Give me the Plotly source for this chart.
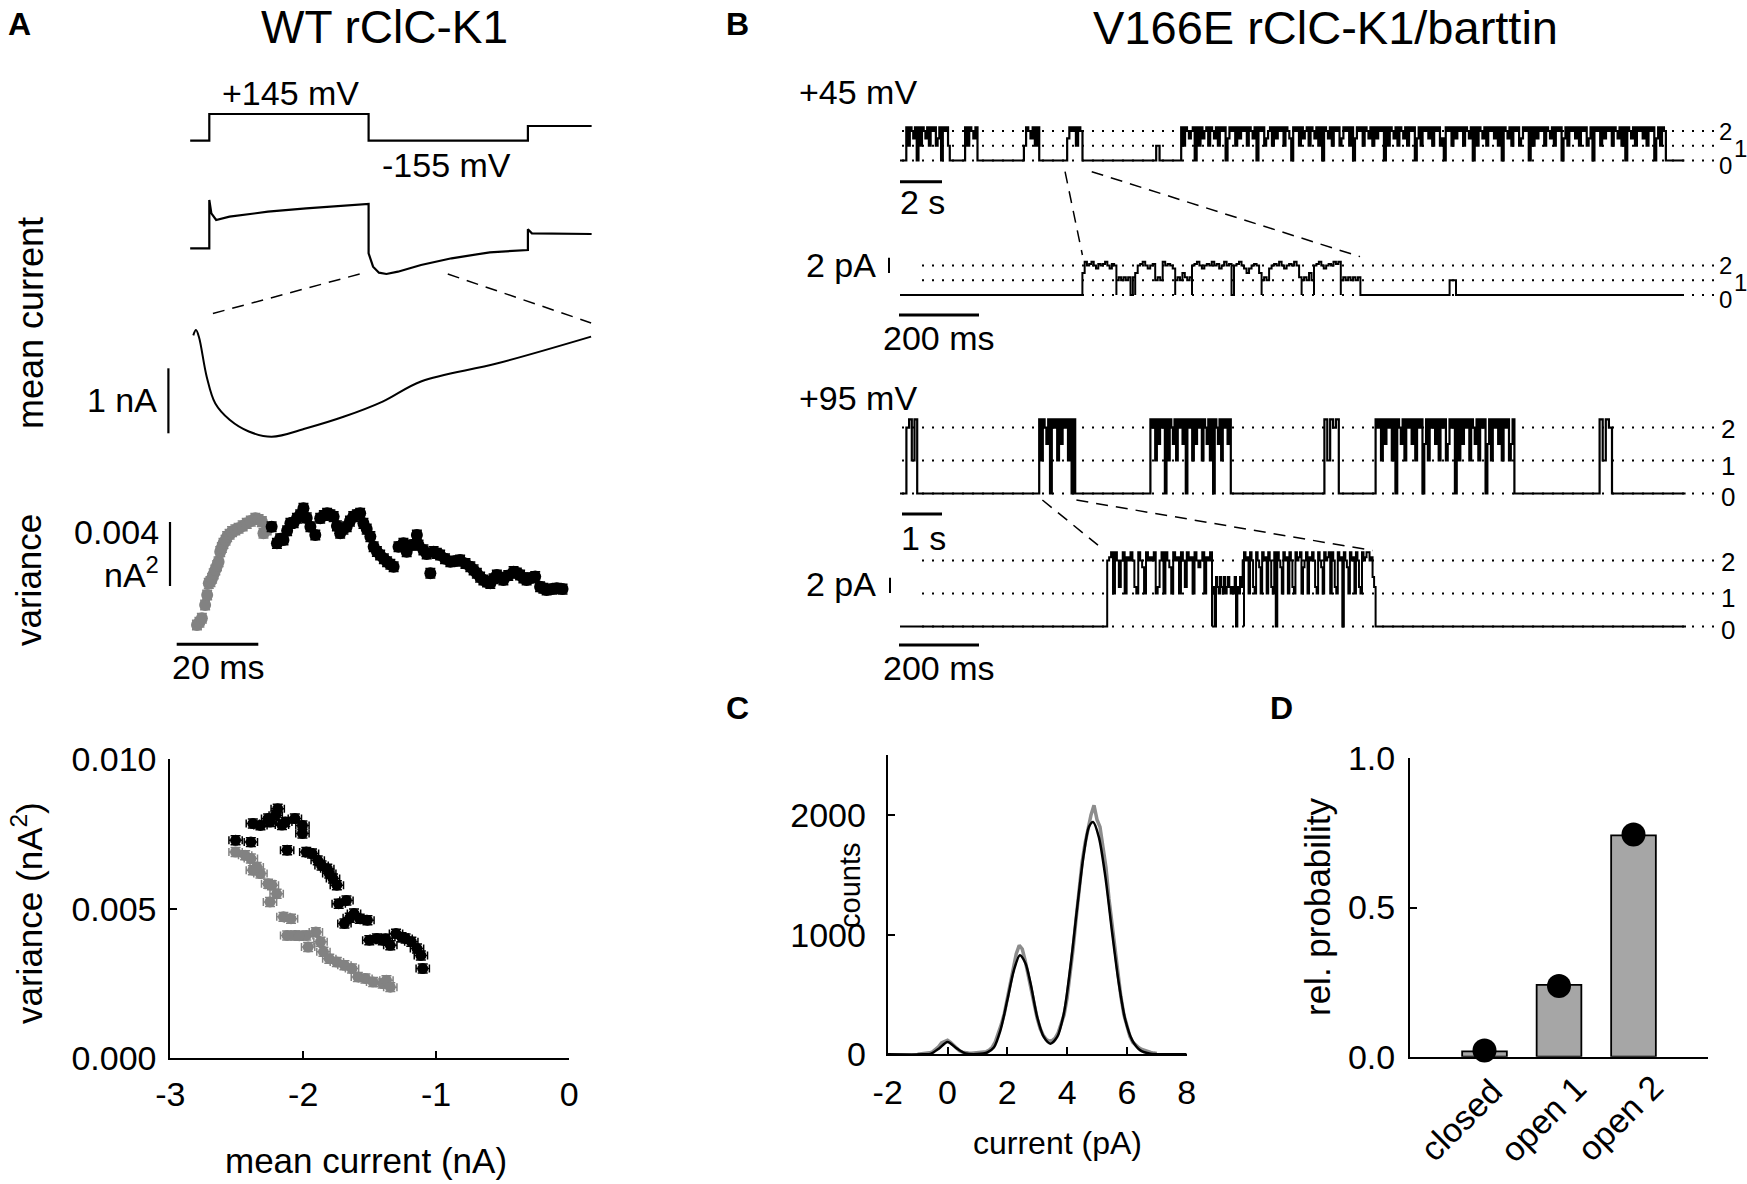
import plotly.graph_objects as go

W, H = 1747, 1184
FONT = "Liberation Sans, Arial, Helvetica, sans-serif"
BLACK = "#000000"
GRAY = "#828282"

# ======================= DATA =======================
# Panel A - voltage protocol (schematic) and mean current
prot_t = [-12, 0, 0, 100, 100, 200, 200, 240]
prot_mv = [-155, -155, 145, 145, -155, -155, 10, 10]

mean_t = [-12, 0, 0, 1.3, 4.3, 12.7, 36.8, 60.8, 100, 100, 102.8, 106.5, 111.2,
          118.4, 132.9, 152.1, 176.1, 200, 200, 202.5, 240]
mean_na = [0, 0, 4.83, 3.5, 2.83, 3.16, 3.66, 4.0, 4.43, -0.5, -1.84, -2.44, -2.57,
           -2.34, -1.67, -1.0, -0.4, -0.17, 1.9, 1.5, 1.43]

# zoom of the -155 mV step
zoom_t = [0, 0.66, 1.4, 3.3, 5.4, 8.9, 13.6, 19.2, 27.7, 37.0, 46.4, 55.8, 74.6, 97.5]
zoom_na = [-1.04, -0.96, -1.07, -1.68, -2.09, -2.34, -2.52, -2.60, -2.47, -2.29,
           -2.06, -1.75, -1.47, -1.06]

# variance vs time
var_gray_t = [0.9, 1.5, 2.1, 2.9, 3.4, 3.8, 4.2, 4.6, 5.0, 5.4, 5.8, 6.2, 6.6, 7.0,
              7.4, 7.9, 8.3, 8.9, 9.5, 10.3, 11.1, 12.1, 13.1, 14.1, 15.2, 16.0,
              16.8, 17.2, 18.0]
var_gray = [0.00101, 0.00118, 0.00143, 0.00226, 0.00288, 0.00361, 0.00372, 0.00393,
            0.00420, 0.00444, 0.00470, 0.00496, 0.00559, 0.00585, 0.00611, 0.00630,
            0.00653, 0.00668, 0.00684, 0.00695, 0.00705, 0.00720, 0.00736, 0.00750,
            0.00768, 0.00760, 0.00747, 0.00674, 0.00694]
var_black_t = [19.2, 20.5, 21.3, 22.1, 23.0, 23.8, 24.6, 25.4, 26.2, 27.0, 27.8, 28.7,
               29.9, 31.1, 32.0, 32.8, 33.6, 34.4, 35.2, 36.0, 36.8, 37.6, 38.4, 39.2,
               40.1, 40.9, 41.7, 42.5, 43.4, 44.2, 45.0, 45.8, 46.7, 47.5, 48.3, 49.1,
               50.3, 51.5, 52.3, 53.5, 54.8, 55.2, 56.4, 57.2, 58.1, 58.9, 59.7, 60.5,
               61.7, 63.0, 64.2, 65.4, 66.7, 67.9, 68.7, 69.5, 70.3, 71.1, 72.0, 72.8,
               73.6, 74.4, 75.2, 76.0, 77.2, 78.5, 79.3, 80.1, 80.9, 81.7, 82.8, 83.8,
               85.0, 85.8, 86.6, 87.9, 89.1, 90.5]
var_black = [0.00715, 0.00611, 0.00640, 0.00632, 0.00690, 0.00736, 0.00740, 0.00768,
             0.00790, 0.00830, 0.00770, 0.00715, 0.00663, 0.00768, 0.00785, 0.00799,
             0.00790, 0.00778, 0.00720, 0.00674, 0.00700, 0.00715, 0.00750, 0.00778,
             0.00790, 0.00799, 0.00736, 0.00700, 0.00653, 0.00590, 0.00560, 0.00538,
             0.00515, 0.00496, 0.00480, 0.00465, 0.00590, 0.00611, 0.00559, 0.00600,
             0.00663, 0.00601, 0.00570, 0.00545, 0.00424, 0.00559, 0.00548, 0.00538,
             0.00515, 0.00496, 0.00500, 0.00507, 0.00485, 0.00465, 0.00445, 0.00424,
             0.00400, 0.00382, 0.00370, 0.00361, 0.00390, 0.00413, 0.00398, 0.00382,
             0.00410, 0.00434, 0.00425, 0.00413, 0.00395, 0.00382, 0.00395, 0.00403,
             0.00340, 0.00330, 0.00319, 0.00325, 0.00330, 0.00325]

# variance vs mean current
sc_black_i = [-2.509, -2.394, -2.379, -2.322, -2.264, -2.192, -2.207, -2.135, -2.063,
              -2.006, -2.006, -2.121, -1.977, -1.934, -1.891, -1.862, -1.819, -1.804,
              -1.776, -1.747, -1.733, -1.675, -1.690, -1.618, -1.575, -1.517, -1.503,
              -1.446, -1.402, -1.345, -1.302, -1.230, -1.187, -1.144, -1.115, -1.101,
              -2.250, -2.160, -1.650, -1.380, -1.260]
sc_black_v = [0.00729, 0.00723, 0.00785, 0.00779, 0.00802, 0.00835, 0.00813, 0.00790,
              0.00802, 0.00779, 0.00752, 0.00696, 0.00690, 0.00685, 0.00662, 0.00645,
              0.00634, 0.00618, 0.00601, 0.00579, 0.00517, 0.00528, 0.00451, 0.00484,
              0.00467, 0.00462, 0.00395, 0.00401, 0.00395, 0.00378, 0.00417, 0.00401,
              0.00390, 0.00367, 0.00344, 0.00300, 0.00790, 0.00780, 0.00470, 0.00400,
              0.00405]
sc_gray_i = [-2.509, -2.437, -2.394, -2.379, -2.322, -2.264, -2.236, -2.250, -2.149,
             -2.092, -2.121, -2.063, -1.977, -1.905, -1.963, -1.848, -1.804, -1.747,
             -1.690, -1.633, -1.589, -1.532, -1.474, -1.402, -1.374, -1.345, -2.350,
             -2.200, -2.030, -1.870]
sc_gray_v = [0.00690, 0.00679, 0.00668, 0.00629, 0.00618, 0.00584, 0.00579, 0.00523,
             0.00473, 0.00467, 0.00411, 0.00411, 0.00411, 0.00422, 0.00372, 0.00356,
             0.00333, 0.00322, 0.00311, 0.00300, 0.00272, 0.00267, 0.00255, 0.00250,
             0.00261, 0.00238, 0.00640, 0.00550, 0.00410, 0.00390]

# Panel B - single-channel recordings
# levels: 0/1/2 open channels; b=1.5, h=2.25, c=1.8, d=1.2, e=2.1
i45_pA = 1.94
i95_pA = 4.34
rec45_len_s = 37.35
rec95_len_s = 19.64
zoom45_len_ms = 1960
zoom95_len_ms = 1965
bursts45 = [
    (0.30, 2.37, "h1h2bh0h1h2bh1h2h1bh0h2h1"),
    (3.10, 3.69, "h1h2bh"),
    (5.90, 6.63, "1h2bh1h"),
    (7.96, 8.69, "bh2h1h2"),
    (12.20, 12.36, "1"),
    (13.39, 36.47,
     "h1h2b2h0h1hb2h1h2bh1h2h0bh2h1hbh2h1h2bh0h2h1b2h1hbh2h1h2b0h2h1hb2h1h2bh1h0h2bh1h2h1"
     "bh2h1h0bh2h1h2bh1hbh2h0h1h2bh1h2bh1h2h0bh1h2hbh1h2h1b0h2h1hbh2h1h2bh0h1h2bh1h2hbh1h0"
     "h2bh1h2h1bh2h0h1hbh2h1h2bh1h2h0bh1h2hbh1h2h1bh0h2h1hbh2h1h2bh1h0h2bh1h2hbh1h2h0bh1h2"),
]
bursts95 = [
    (0.16, 0.43, "2h1h"),
    (3.48, 4.38, "h1h2bh0h2h1hbh2h1h0h"),
    (6.26, 8.27, "h2h1hbh2h0h1h2bh1h2hbh0h2h1hbh2h1h2bh1h0h2bh1h2hbh"),
    (10.61, 10.97, "h1h2h"),
    (11.89, 15.36, "h2h1hbh2h1h0h2bh1h2hbh1h2h0bh1h2hbh1h2h1bh2h0h1hbh2h1h2bh1h2h0bh1h2hbh1h2h1bh"),
    (17.49, 17.80, "h1h2"),
]
zoom45_segments = [
    (456, 541, "bh2eh2ce2eh2ce2"),
    (541, 588, "1d1d1d0d"),
    (588, 688, "b2eh2c2e1d1h2e2c"),
    (688, 730, "1d1bd1d"),
    (730, 835, "2eh2c2e2h2ec2h2e0"),
    (835, 904, "2eh2cbc2e2b"),
    (904, 1004, "1d1c2e2h2c2e2h2d"),
    (1004, 1035, "1d1b1"),
    (1035, 1102, "2eh2c2e2heh"),
    (1102, 1151, "1d1d1d1d"),
    (1374, 1390, "1"),
]
zoom95_segments = [
    (518, 780, "2eh1h2d2h1e2h2d1h2c1h2e2h1d2h1h2c1h2e1h2dh2e1h2c2h1e2h"),
    (780, 860, "1d0bd1bd1b1dbd1d1b0d1bd2"),
    (860, 1189, "h2e1h2d1h2c1h2e1h2d1h0h2c1h2e1h2d1h2eh1c2h1e2h2d1h2c1h2eh1h2d1h2e0h2c1h2e1h2d1h2ehh2ebd"),
]

# Panel C - amplitude histogram
hist_pA = [-1.0, -0.9, -0.8, -0.7, -0.6, -0.5, -0.4, -0.3, -0.2, -0.1, 0.0, 0.1, 0.2,
           0.3, 0.4, 0.5, 0.6, 0.7, 0.8, 0.9, 1.0, 1.1, 1.2, 1.3, 1.4, 1.5, 1.6, 1.7,
           1.8, 1.9, 2.0, 2.1, 2.2, 2.3, 2.4, 2.5, 2.6, 2.7, 2.8, 2.9, 3.0, 3.1, 3.2,
           3.3, 3.4, 3.5, 3.6, 3.7, 3.8, 3.9, 4.0, 4.1, 4.2, 4.3, 4.4, 4.5, 4.6, 4.7,
           4.8, 4.9, 5.0, 5.1, 5.2, 5.3, 5.4, 5.5, 5.6, 5.7, 5.8, 5.9, 6.0, 6.1, 6.2,
           6.3, 6.4, 6.5, 6.6, 6.7, 6.8, 6.9, 7.0]
hist_counts = [0, 2, 5, 8, 12, 20, 38, 62, 95, 110, 118, 100, 78,
               52, 30, 18, 12, 10, 9, 11, 10, 12, 15, 22, 35, 60, 105, 170,
               250, 340, 470, 580, 700, 840, 910, 880, 780, 660, 540, 410, 300, 215, 160,
               125, 110, 115, 135, 180, 250, 330, 470, 660, 880, 1130, 1380, 1600, 1760, 1900,
               2000, 2080, 1960, 1900, 1720, 1560, 1300, 1080, 880, 640, 480, 330, 230, 150, 100,
               75, 55, 40, 30, 22, 15, 10, 6]
fit_pA = [-2.0, -0.8, -0.57, -0.29, 0.0, 0.32, 0.6, 1.0, 1.33, 1.55, 1.77, 2.0, 2.22,
          2.42, 2.61, 2.78, 3.0, 3.22, 3.44, 3.67, 3.89, 4.11, 4.34, 4.56, 4.73, 4.87,
          5.06, 5.28, 5.51, 5.73, 5.95, 6.18, 6.45, 6.79, 7.2, 8.0]
fit_counts = [0, 0, 3, 47, 103, 47, 8, 2, 15, 56, 200, 451, 702,
              827, 758, 591, 312, 145, 89, 145, 340, 730, 1231, 1677, 1900, 1941,
              1817, 1482, 1009, 591, 284, 117, 33, 5, 0, 0]

# Panel D - relative probabilities
states = ["closed", "open 1", "open 2"]
prob_observed = [0.018, 0.241, 0.742]
prob_binomial = [0.021, 0.237, 0.745]

# scale-bar sizes (data units)
sb_nA = 1.0
sb_var = 0.004
sb_ms_A = 20
sb_pA = 2.0
sb_s45 = 2.0
sb_s95 = 1.0
sb_ms_B = 200

# ======================= FIGURE =======================
fig = go.Figure()
AX = {}


def sfx(n):
    return "" if n == 1 else str(n)


def scaled_axes(n, box, xref_px, xref_val, xppu, yref_px, yref_val, yppu, visible=False):
    px0, px1, py0, py1 = box
    xr = [xref_val + (px0 - xref_px) / xppu, xref_val + (px1 - xref_px) / xppu]
    yr = [yref_val - (py1 - yref_px) / yppu, yref_val - (py0 - yref_px) / yppu]
    AX[n] = dict(xd=(px0 / W, px1 / W), yd=(1 - py1 / H, 1 - py0 / H), xr=xr, yr=yr)
    fig.update_layout(**{
        "xaxis" + sfx(n): dict(domain=list(AX[n]["xd"]), range=xr, visible=visible,
                               anchor="y" + sfx(n), fixedrange=True, automargin=False),
        "yaxis" + sfx(n): dict(domain=list(AX[n]["yd"]), range=yr, visible=visible,
                               anchor="x" + sfx(n), fixedrange=True, automargin=False),
    })


def to_paper(n, xv, yv):
    a = AX[n]
    fx = a["xd"][0] + (xv - a["xr"][0]) / (a["xr"][1] - a["xr"][0]) * (a["xd"][1] - a["xd"][0])
    fy = a["yd"][0] + (yv - a["yr"][0]) / (a["yr"][1] - a["yr"][0]) * (a["yd"][1] - a["yd"][0])
    return fx, fy


def px_data(n, px, py):
    a = AX[n]
    fx, fy = px / W, 1 - py / H
    xv = a["xr"][0] + (fx - a["xd"][0]) / (a["xd"][1] - a["xd"][0]) * (a["xr"][1] - a["xr"][0])
    yv = a["yr"][0] + (fy - a["yd"][0]) / (a["yd"][1] - a["yd"][0]) * (a["yr"][1] - a["yr"][0])
    return xv, yv


def line(n, xs, ys, color=BLACK, width=2, shape="linear"):
    fig.add_trace(go.Scatter(x=xs, y=ys, mode="lines", xaxis="x" + sfx(n), yaxis="y" + sfx(n),
                             line=dict(color=color, width=width, shape=shape),
                             hoverinfo="skip", showlegend=False))


def ann(text, px, py, size=34, xanchor="center", yanchor="middle", angle=0, bold=False):
    fig.add_annotation(text=("<b>%s</b>" % text) if bold else text, x=px / W, y=1 - py / H,
                       xref="paper", yref="paper", xanchor=xanchor, yanchor=yanchor,
                       showarrow=False, textangle=angle, borderpad=0,
                       font=dict(family=FONT, size=size, color=BLACK))


def pline(p0, p1, dash="12px,8px", width=1.5):
    fig.add_shape(type="line", xref="paper", yref="paper", x0=p0[0], y0=p0[1],
                  x1=p1[0], y1=p1[1], line=dict(color=BLACK, width=width, dash=dash))


LEVEL = {"0": 0.0, "1": 1.0, "2": 2.0, "b": 1.5, "h": 2.25, "c": 1.8, "d": 1.2, "e": 2.1}


def burst_trace(total, bursts, unit):
    ts, ys = [0.0], [0.0]
    prev_end = None
    for b0, b1, pat in bursts:
        if prev_end is None or b0 > prev_end + 1e-9:
            ts.append(b0)
            ys.append(0.0)
        dt = (b1 - b0) / len(pat)
        for k, c in enumerate(pat):
            ts.append(b0 + k * dt)
            ys.append(LEVEL[c] * unit)
        prev_end = b1
        ts.append(b1)
        ys.append(ys[-1])
        ts.append(b1)
        ys.append(0.0)
    ts.append(total)
    ys.append(0.0)
    return ts, ys


# ---------- axes layout (pixel boxes and scales) ----------
scaled_axes(1, (180, 600, 95, 150), 209.3, 0, 1.593, 140.7, -155, 0.089)       # protocol
scaled_axes(2, (180, 600, 185, 290), 209.3, 0, 1.593, 248.3, 0, 10.0)          # mean current
scaled_axes(3, (150, 600, 320, 450), 193.3, 0, 4.08, 436.7, -2.6, 65.0)        # zoomed current
scaled_axes(4, (150, 600, 485, 660), 193.3, 0, 4.08, 508.3, 0.0083, 16000.0)   # variance vs time
scaled_axes(5, (170.3, 569.1, 759.3, 1058.3), 170.3, -3, 132.93, 1058.3, 0, 29900.0, True)
scaled_axes(6, (880, 1700, 110, 192), 900, 0, 21.0, 160.5, 0, 7.6)             # +45 overview
scaled_axes(7, (880, 1700, 235, 322), 900, 0, 0.4, 295.0, 0, 7.6)              # +45 zoom
scaled_axes(8, (880, 1700, 410, 522), 900, 0, 40.0, 493.5, 0, 7.6)             # +95 overview
scaled_axes(9, (880, 1700, 540, 652), 900, 0, 0.4, 626.5, 0, 7.6)              # +95 zoom
scaled_axes(10, (887.7, 1186.7, 755.0, 1054.3), 887.7, -2, 29.9, 1054.3, 0, 0.1197, True)
scaled_axes(11, (1410, 1708, 758.3, 1056.7), 1410, -1, 74.5, 1056.7, 0, 298.4, True)

# ---------- Panel A ----------
line(1, prot_t, prot_mv, width=2.2)
line(2, mean_t, mean_na, width=2.2)
line(3, zoom_t, zoom_na, width=2.0, shape="spline")

for xs, ys, col in [(var_gray_t, var_gray, GRAY), (var_black_t, var_black, BLACK)]:
    fig.add_trace(go.Scatter(x=xs, y=ys, mode="markers", xaxis="x4", yaxis="y4",
                             marker=dict(color=col, size=12),
                             error_x=dict(type="constant", value=1.0, color=col, thickness=1.5, width=4),
                             error_y=dict(type="constant", value=0.0003, color=col, thickness=1.5, width=5),
                             hoverinfo="skip", showlegend=False))

for xs, ys, col in [(sc_gray_i, sc_gray_v, GRAY), (sc_black_i, sc_black_v, BLACK)]:
    fig.add_trace(go.Scatter(x=xs, y=ys, mode="markers", xaxis="x5", yaxis="y5",
                             marker=dict(color=col, size=11),
                             error_x=dict(type="constant", value=0.05, color=col, thickness=1.5, width=4),
                             error_y=dict(type="constant", value=0.00015, color=col, thickness=1.5, width=5),
                             hoverinfo="skip", showlegend=False))

# scale bars panel A
bx, by = px_data(3, 168.4, 433.3)
line(3, [bx, bx], [by, by + sb_nA], width=2.2)
bx, by = px_data(4, 170.0, 586.0)
line(4, [bx, bx], [by, by + sb_var], width=2.2)
bx, by = px_data(4, 176.7, 644.3)
line(4, [bx, bx + sb_ms_A], [by, by], width=3)

# zoom connectors panel A
pline(to_paper(2, 94.4, -2.57), to_paper(3, 3.3, -0.73))
pline(to_paper(2, 149.7, -2.57), to_paper(3, 97.5, -0.85))

# ---------- Panel B ----------
t45, y45 = burst_trace(rec45_len_s, bursts45, i45_pA)
t95, y95 = burst_trace(rec95_len_s, bursts95, i95_pA)
tz45, yz45 = burst_trace(zoom45_len_ms, zoom45_segments, i45_pA)
tz95, yz95 = burst_trace(zoom95_len_ms, zoom95_segments, i95_pA)
line(6, t45, y45, width=2.2, shape="hv")
line(8, t95, y95, width=2.2, shape="hv")
line(7, tz45, yz45, width=2.0, shape="hv")
line(9, tz95, yz95, width=2.0, shape="hv")

for n, unit, x_start in [(6, i45_pA, 902), (7, i45_pA, 922), (8, i95_pA, 902), (9, i95_pA, 922)]:
    for k in range(3):
        _, yk = to_paper(n, 0, k * unit)
        fig.add_shape(type="line", xref="paper", yref="paper", x0=x_start / W, x1=1715 / W,
                      y0=yk, y1=yk, layer="below",
                      line=dict(color=BLACK, width=2, dash="2px,8px"))

# level labels
for lab, px, py, fs in [("2", 1725, 131, 24), ("1", 1740, 148, 24), ("0", 1725, 165, 24),
                        ("2", 1725, 265, 24), ("1", 1740, 282, 24), ("0", 1725, 299, 24),
                        ("2", 1728, 429, 26), ("1", 1728, 466, 26), ("0", 1728, 497, 26),
                        ("2", 1728, 562, 26), ("1", 1728, 598, 26), ("0", 1728, 630, 26)]:
    ann(lab, px, py, size=fs)

# scale bars panel B
bx, by = px_data(6, 900, 181.7)
line(6, [bx, bx + sb_s45], [by, by], width=3)
bx, by = px_data(7, 899, 315)
line(7, [bx, bx + sb_ms_B], [by, by], width=3)
bx, by = px_data(7, 889, 273)
line(7, [bx, bx], [by, by + sb_pA], width=2)
bx, by = px_data(8, 902, 514)
line(8, [bx, bx + sb_s95], [by, by], width=3)
bx, by = px_data(9, 899, 645)
line(9, [bx, bx + sb_ms_B], [by, by], width=3)
bx, by = px_data(9, 890, 593)
line(9, [bx, bx], [by, by + sb_pA], width=2)

# zoom connectors panel B
pline(to_paper(6, 7.86, -1.47), to_paper(7, 456, 5.26))
pline(to_paper(6, 9.13, -1.47), to_paper(7, 1150, 5.05))
pline(to_paper(8, 3.56, -0.86), to_paper(9, 495, 10.7))
pline(to_paper(8, 4.41, -0.86), to_paper(9, 1181, 10.0))

# ---------- Panel C ----------
fig.add_trace(go.Scatter(x=hist_pA, y=hist_counts, mode="lines", xaxis="x10", yaxis="y10",
                         line=dict(color="#8c8c8c", width=3.5), hoverinfo="skip", showlegend=False))
fig.add_trace(go.Scatter(x=fit_pA, y=fit_counts, mode="lines", xaxis="x10", yaxis="y10",
                         line=dict(color=BLACK, width=2.5, shape="spline", smoothing=0.8),
                         hoverinfo="skip", showlegend=False))

# ---------- Panel D ----------
fig.add_trace(go.Bar(x=[0, 1, 2], y=prob_observed, xaxis="x11", yaxis="y11", width=0.6,
                     marker=dict(color="#a6a6a6", line=dict(color=BLACK, width=1.8)),
                     hoverinfo="skip", showlegend=False))
fig.add_trace(go.Scatter(x=[0, 1, 2], y=prob_binomial, mode="markers", xaxis="x11", yaxis="y11",
                         marker=dict(color=BLACK, size=24), cliponaxis=False,
                         hoverinfo="skip", showlegend=False))

# ---------- visible axes styling ----------
axis_common = dict(showline=True, linecolor=BLACK, linewidth=2, showgrid=False, zeroline=False,
                   ticks="inside", ticklen=7, tickwidth=2, tickcolor=BLACK,
                   tickfont=dict(family=FONT, size=34, color=BLACK))
fig.update_layout(
    xaxis5=dict(**axis_common, tickvals=[-3, -2, -1, 0], ticktext=["-3", "-2", "-1", "0"],
                ticklabelstandoff=5),
    yaxis5=dict(**axis_common, tickvals=[0, 0.005, 0.01], ticktext=["0.000", "0.005", "0.010"],
                ticklabelstandoff=5),
    xaxis10=dict(**axis_common, tickvals=[-2, 0, 2, 4, 6, 8],
                 ticktext=["-2", "0", "2", "4", "6", "8"], ticklabelstandoff=7),
    yaxis10=dict(**axis_common, tickvals=[0, 1000, 2000], ticktext=["0", "1000", "2000"],
                 ticklabelstandoff=13),
    xaxis11=dict(**{**axis_common, "ticks": ""}, tickvals=[0, 1, 2], showticklabels=False),
    yaxis11=dict(**axis_common, tickvals=[0, 0.5, 1.0], ticktext=["0.0", "0.5", "1.0"],
                 ticklabelstandoff=6),
)

# category labels of panel D (rotated)
for lab, px, py in zip(states, [1461, 1543, 1620], [1120, 1119, 1118]):
    ann(lab, px, py, size=34, angle=-45)

# ---------- texts ----------
ann("A", 19, 24, size=32, bold=True)
ann("B", 737, 24, size=32, bold=True)
ann("C", 737, 708, size=32, bold=True)
ann("D", 1281, 708, size=32, bold=True)
ann("WT rClC-K1", 384, 27, size=46)
ann("V166E rClC-K1/barttin", 1092, 27, size=47, xanchor="left")

ann("+145 mV", 290, 93)
ann("-155 mV", 446, 165)
ann("mean current", 30, 323, size=36, angle=-90)
ann("1 nA", 158, 400, xanchor="right")
ann("variance", 28, 580, size=35, angle=-90)
ann("0.004", 160, 532, xanchor="right")
ann("nA<sup>2</sup>", 160, 572, xanchor="right")
ann("20 ms", 218, 667)
ann("variance (nA<sup>2</sup>)", 27, 913, size=35, angle=-90)
ann("mean current (nA)", 366, 1160, size=35)

ann("+45 mV", 798, 92, xanchor="left")
ann("2 s", 922, 202)
ann("2 pA", 877, 265, xanchor="right")
ann("200 ms", 939, 338)
ann("+95 mV", 798, 398, xanchor="left")
ann("1 s", 923, 538)
ann("2 pA", 877, 584, xanchor="right")
ann("200 ms", 939, 668)

ann("counts", 850, 886, size=29, angle=-90)
ann("current (pA)", 1057, 1143, size=32)
ann("rel. probability", 1317, 907, size=35, angle=-90)

fig.update_layout(width=W, height=H, autosize=False,
                  margin=dict(l=0, r=0, t=0, b=0, pad=0, autoexpand=False),
                  paper_bgcolor="white", plot_bgcolor="rgba(0,0,0,0)",
                  font=dict(family=FONT, color=BLACK), showlegend=False)

fig.write_html("out.html", config={"displayModeBar": False},
               post_script="document.body.style.margin='0';document.body.style.overflow='hidden';")
